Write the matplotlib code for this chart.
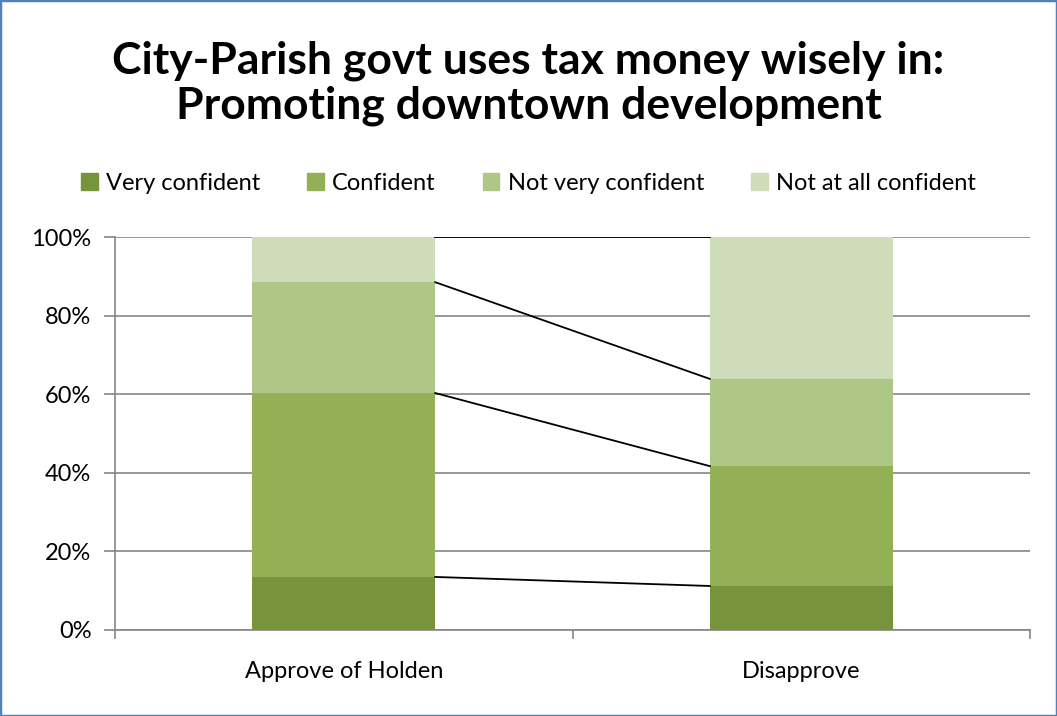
import matplotlib
matplotlib.use("Agg")
import matplotlib.pyplot as plt
import numpy as np
from matplotlib.patches import Rectangle

plt.rcParams['font.family'] = ['Lato', 'DejaVu Sans']

categories = ["Approve of Holden", "Disapprove"]
series = ["Very confident", "Confident", "Not very confident", "Not at all confident"]
very_confident = [13.5, 11.2]
confident = [46.8, 30.5]
not_very_confident = [28.2, 22.2]
not_at_all_confident = [11.5, 36.1]
colors = ["#77933C", "#93B056", "#AFC786", "#CFDCBA"]
yticks = [0, 20, 40, 60, 80, 100]
ytick_labels = ["0%", "20%", "40%", "60%", "80%", "100%"]

W, H = 1057, 716
fig = plt.figure(figsize=(W/100, H/100), dpi=100)
ax = fig.add_axes([115/W, 1 - 630/H, (1030-115)/W, (630-237)/H])

x = np.arange(len(categories))
width = 0.4
data = [very_confident, confident, not_very_confident, not_at_all_confident]
bottom = np.zeros(len(categories))
tops = []
for vals, c, name in zip(data, colors, series):
    ax.bar(x, vals, width, bottom=bottom, color=c, label=name, zorder=3)
    bottom = bottom + np.array(vals)
    tops.append(bottom.copy())

# series lines
for t in tops:
    ax.plot([x[0] + width/2, x[1] - width/2], [t[0], t[1]], color="black", lw=1.3, zorder=4)

ax.set_xlim(-0.5, 1.5)
ax.set_ylim(0, 100)
ax.set_yticks(yticks)
ax.set_yticklabels(ytick_labels, fontsize=17)
ax.set_xticks(x)
ax.set_xticklabels(categories, fontsize=17)
ax.tick_params(axis='x', length=0, pad=22)
ax.tick_params(axis='y', length=8, color="#868686", width=1.2, pad=9)
ax.yaxis.grid(True, color="#868686", lw=1.2, zorder=0)
ax.set_axisbelow(True)
for s in ["top", "right"]:
    ax.spines[s].set_visible(False)
for s in ["left", "bottom"]:
    ax.spines[s].set_color("#868686")
    ax.spines[s].set_linewidth(1.2)
# x-axis category tick marks at boundaries
for xb in [-0.5, 0.5, 1.5]:
    ax.plot([xb, xb], [0, -2], color="#868686", lw=1.2, clip_on=False)

fig.text(0.5, 1 - 83/H, "City-Parish govt uses tax money wisely in:\nPromoting downtown development",
         ha="center", va="center", fontsize=32, fontweight="bold", linespacing=1.15)

handles = [Rectangle((0, 0), 1, 1, color=c) for c in colors]
fig.legend(handles, series, loc="center", bbox_to_anchor=(0.5, 1 - 183/H), ncol=4,
           frameon=False, fontsize=17, handlelength=0.7, handleheight=0.7,
           handletextpad=0.35, columnspacing=2.0)

# figure border
fig.patches.append(Rectangle((0, 0), 1, 1, transform=fig.transFigure, fill=False,
                             edgecolor="#4F81BD", lw=2.5))

fig.savefig("out.png", dpi=100)
